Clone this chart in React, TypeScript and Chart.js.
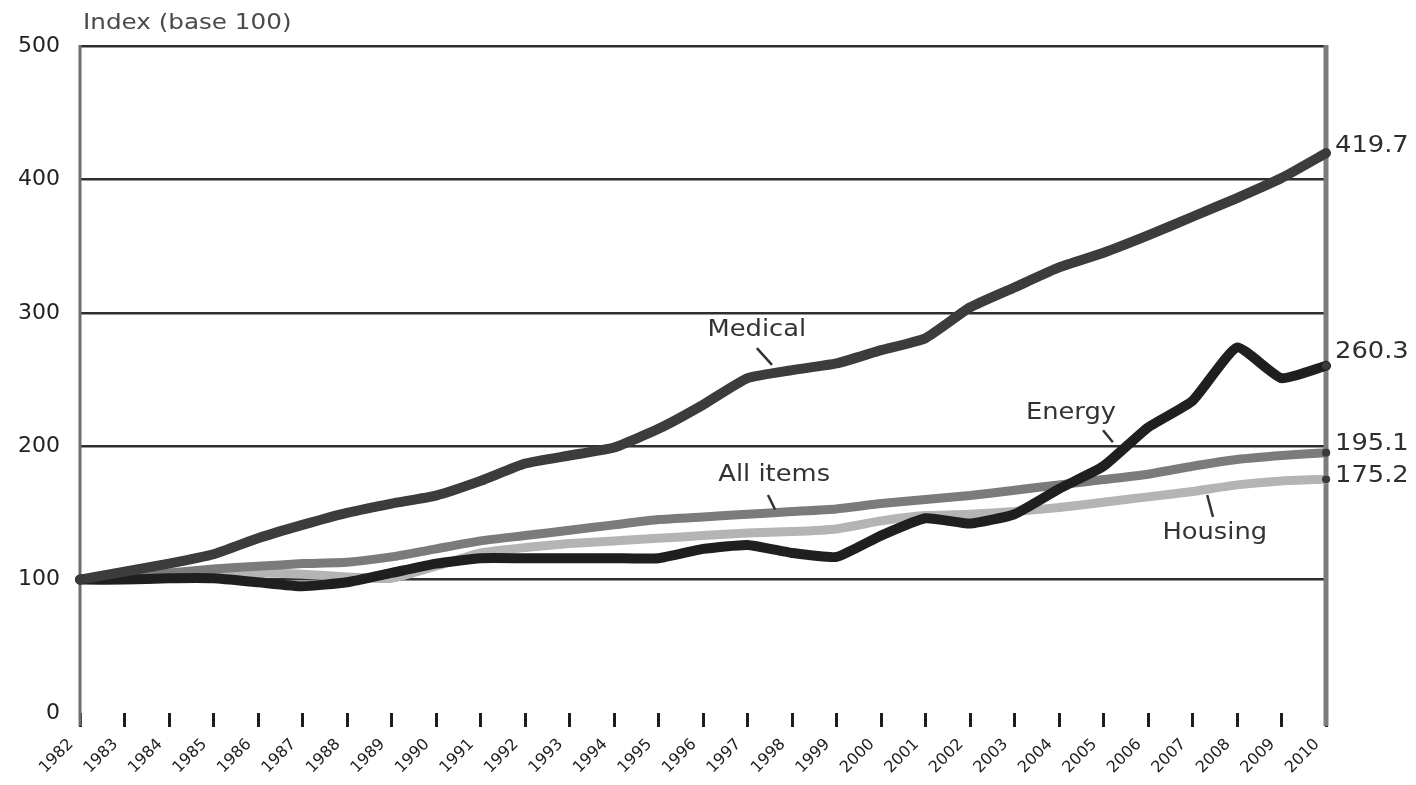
import React, { useEffect, useRef } from "react";
import { Chart, registerables } from "chart.js";

Chart.register(...registerables);

const years = [
  "1982", "1983", "1984", "1985", "1986", "1987", "1988", "1989", "1990", "1991",
  "1992", "1993", "1994", "1995", "1996", "1997", "1998", "1999", "2000", "2001",
  "2002", "2003", "2004", "2005", "2006", "2007", "2008", "2009", "2010",
];
const medical = [
  100, 106, 112, 119, 131, 141, 150, 157, 163, 174,
  187, 193, 199, 213, 231, 251, 257, 262, 272, 281,
  304, 319, 334, 345, 358, 372, 386, 401, 419.7,
];
const energy = [
  100, 100, 101, 101, 98, 95, 98, 105, 112, 116,
  116, 116, 116, 116, 123, 126, 120, 117, 133, 146,
  142, 149, 168, 185, 214, 234, 274, 251, 260.3,
];
const allItems = [
  100, 102, 105, 108, 110, 112, 113, 117, 123, 129,
  133, 137, 141, 145, 147, 149, 151, 153, 157, 160,
  163, 167, 171, 175, 179, 185, 190, 193, 195.1,
];
const housing = [
  100, 101, 103, 104, 105, 104, 102, 101, 110, 120,
  124, 127, 129, 131, 133, 135, 136, 138, 144, 148,
  149, 151, 154, 158, 162, 166, 171, 174, 175.2,
];
const seriesNames = ["Medical", "Energy", "All items", "Housing"];
const endLabels = ["419.7", "260.3", "195.1", "175.2"];
const yTickValues = [0, 100, 200, 300, 400, 500];
const axisTitle = "Index (base 100)";

const FONT = '"DejaVu Sans", "Liberation Sans", sans-serif';
const SX = 1.12;

// label placement (index on the category axis, value on the y axis)
const seriesLabelPos = [
  { text: 0, x: 15.21, y: 287, px1: 15.21, py1: 273.5, px2: 15.55, py2: 261 },
  { text: 1, x: 22.27, y: 225, px1: 22.99, py1: 212, px2: 23.21, py2: 203 },
  { text: 2, x: 15.6, y: 178.4, px1: 15.46, py1: 163.4, px2: 15.62, py2: 152.5 },
  { text: 3, x: 25.5, y: 134.9, px1: 25.33, py1: 163.4, px2: 25.46, py2: 147 },
];
const endLabelDy = [-7, -14, -9, -3];

function drawText(ctx: CanvasRenderingContext2D, text: string, x: number, y: number, size: number, align: CanvasTextAlign, color: string) {
  ctx.save();
  ctx.font = `${size}px ${FONT}`;
  ctx.fillStyle = color;
  ctx.textBaseline = "middle";
  ctx.textAlign = align;
  ctx.translate(x, y);
  ctx.scale(SX, 1);
  ctx.fillText(text, 0, 0);
  ctx.restore();
}

const overlay = {
  id: "overlay",
  beforeDatasetsDraw(chart: any) {
    const { ctx, chartArea: a } = chart;
    ctx.save();
    ctx.strokeStyle = "#6e6e6e";
    ctx.lineWidth = 3;
    ctx.beginPath();
    ctx.moveTo(a.left, a.top - 1);
    ctx.lineTo(a.left, a.bottom + 13);
    ctx.stroke();
    ctx.strokeStyle = "#7c7c7c";
    ctx.lineWidth = 5;
    ctx.beginPath();
    ctx.moveTo(a.right, a.top - 1);
    ctx.lineTo(a.right, a.bottom + 13);
    ctx.stroke();
    ctx.restore();
  },
  afterDatasetsDraw(chart: any) {
    const { ctx, chartArea: a, scales } = chart;
    const xs = scales.x;
    const ys = scales.y;
    drawText(ctx, axisTitle, a.left + 3, 23, 22, "left", "#4a4a4a");
    const lastVals = [medical, energy, allItems, housing].map((s) => s[s.length - 1]);
    endLabels.forEach((t, i) => {
      drawText(ctx, t, a.right + 9, ys.getPixelForValue(lastVals[i]) + endLabelDy[i], 23, "left", "#2e2e2e");
    });
    seriesLabelPos.forEach((p) => {
      drawText(ctx, seriesNames[p.text], xs.getPixelForValue(p.x), ys.getPixelForValue(p.y), 23, "center", "#333333");
      ctx.save();
      ctx.strokeStyle = "#333333";
      ctx.lineWidth = 2.5;
      ctx.beginPath();
      ctx.moveTo(xs.getPixelForValue(p.px1), ys.getPixelForValue(p.py1));
      ctx.lineTo(xs.getPixelForValue(p.px2), ys.getPixelForValue(p.py2));
      ctx.stroke();
      ctx.restore();
    });
  },
};

const endRadius = (n: number) => years.map((_, i) => (i === 0 || i === n - 1 ? 4 : 0));

export default function App() {
  const ref = useRef<HTMLCanvasElement | null>(null);
  useEffect(() => {
    if (!ref.current) return;
    const mk = (label: string, data: number[], color: string, width: number, order: number) => ({
      label,
      data,
      borderColor: color,
      backgroundColor: color,
      borderWidth: width,
      pointRadius: endRadius(data.length),
      pointBackgroundColor: "#3a3a3a",
      pointBorderWidth: 0,
      tension: 0.15,
      borderJoinStyle: "round" as const,
      borderCapStyle: "round" as const,
      order,
      fill: false,
    });
    const chart = new Chart(ref.current, {
      type: "line",
      data: {
        labels: years,
        datasets: [
          mk(seriesNames[0], medical, "#3c3c3c", 10, 0),
          mk(seriesNames[1], energy, "#1f1f1f", 10, 1),
          mk(seriesNames[2], allItems, "#7b7b7b", 9, 2),
          mk(seriesNames[3], housing, "#b4b4b4", 9, 3),
        ],
      },
      options: {
        responsive: false,
        animation: false,
        devicePixelRatio: 1,
        layout: { padding: { top: 46, right: 90, left: 0, bottom: 0 } },
        plugins: { legend: { display: false }, tooltip: { enabled: false }, title: { display: false } },
        scales: {
          x: {
            type: "category",
            offset: false,
            border: { display: false },
            grid: {
              drawOnChartArea: false,
              drawTicks: true,
              tickLength: 14,
              tickColor: "#1e1e1e",
              tickWidth: 3,
              offset: false,
            },
            ticks: {
              autoSkip: false,
              maxRotation: 45,
              minRotation: 45,
              padding: 8,
              labelOffset: -9,
              color: "#1e1e1e",
              font: { family: FONT, size: 16 },
            },
            afterFit: (s: any) => {
              s.height = 72;
            },
          },
          y: {
            min: 0,
            max: 500,
            border: { display: false },
            grid: {
              drawTicks: false,
              color: (c: any) => (c.tick && c.tick.value === 0 ? "rgba(0,0,0,0)" : "#2e2e2e"),
              lineWidth: 2.5,
            },
            ticks: {
              stepSize: 100,
              padding: 20,
              color: "#222222",
              font: { family: FONT, size: 22 },
              callback: (v: any) => (yTickValues.includes(Number(v)) ? String(v) : ""),
            },
            afterFit: (s: any) => {
              s.width = 80;
            },
          },
        },
      },
      plugins: [overlay],
    });
    return () => chart.destroy();
  }, []);
  return (
    <div style={{ position: "absolute", left: 0, top: 0, width: 1416, height: 785, background: "#ffffff" }}>
      <canvas ref={ref} width={1416} height={785} />
    </div>
  );
}
